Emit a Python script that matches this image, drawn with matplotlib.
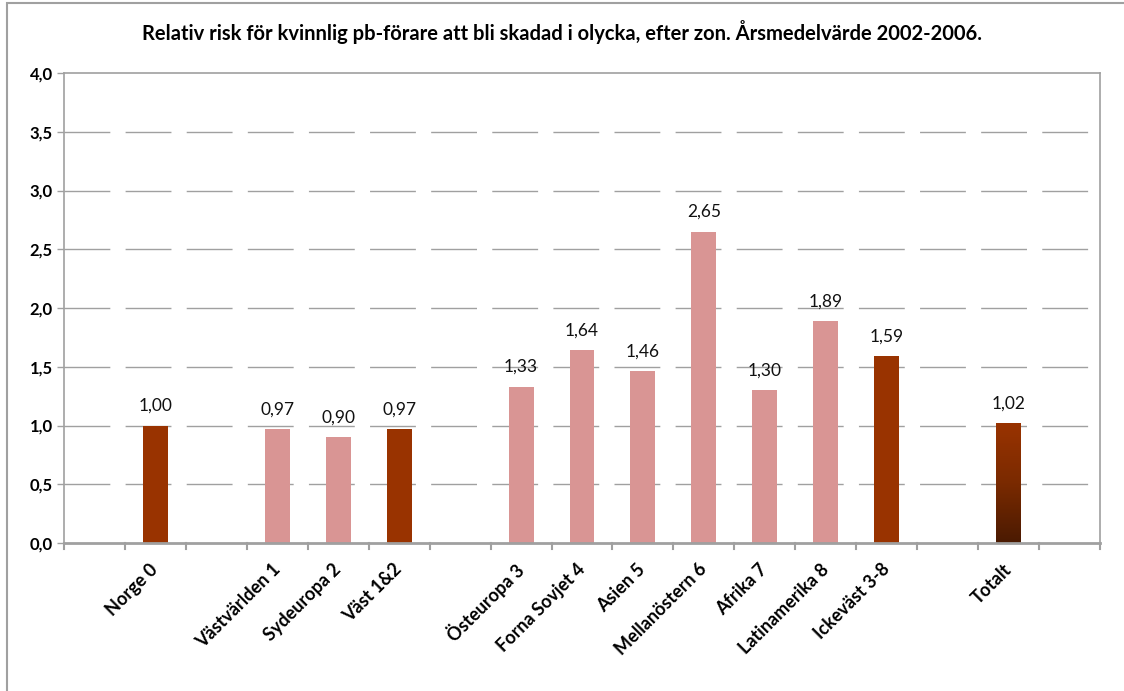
import numpy as np
import matplotlib.pyplot as plt
from matplotlib.patches import Rectangle
from matplotlib.colors import LinearSegmentedColormap

# categories ('' = empty slot between groups)
labels = ['', 'Norge 0', '', 'Västvärlden 1', 'Sydeuropa 2', 'Väst 1&2', '',
          'Östeuropa 3', 'Forna Sovjet 4', 'Asien 5', 'Mellanöstern 6', 'Afrika 7',
          'Latinamerika 8', 'Ickeväst 3-8', '', 'Totalt', '']
values = [np.nan, 1.00, np.nan, 0.97, 0.90, 0.97, np.nan,
          1.33, 1.64, 1.46, 2.65, 1.30, 1.89, 1.59, np.nan, 1.02, np.nan]
kinds = ['', 'sum', '', 'zone', 'zone', 'sum', '',
         'zone', 'zone', 'zone', 'zone', 'zone', 'zone', 'sum', '', 'total', '']
value_text = ['', '1,00', '', '0,97', '0,90', '0,97', '',
              '1,33', '1,64', '1,46', '2,65', '1,30', '1,89', '1,59', '', '1,02', '']

title = 'Relativ risk för kvinnlig pb-förare att bli skadad i olycka, efter zon. Årsmedelvärde 2002-2006.'

dark = '#993300'
pink = '#D99594'
grey = '#A0A0A0'

plt.rcParams['font.family'] = ['Lato', 'DejaVu Sans']

fig = plt.figure(figsize=(11.24, 6.91), dpi=100)
W, H = 1124, 691
ax = fig.add_axes([64 / W, (H - 543) / H, (1100 - 64) / W, (543 - 73) / H])

# outer chart border
fig.patches.append(Rectangle((7 / W, -0.1), 1.2, (H - 3) / H + 0.1, transform=fig.transFigure,
                             fill=False, edgecolor=grey, lw=1.5, clip_on=False))

x = np.arange(len(labels))
bw = 0.41
for i in x:
    v = values[i]
    if np.isnan(v):
        continue
    if kinds[i] == 'total':
        bar = ax.bar(i, v, bw, color='none', zorder=3)[0]
        grad = np.linspace(1, 0, 256).reshape(-1, 1)
        cm = LinearSegmentedColormap.from_list('g', ['#4A1A02', '#7A2A00', dark])
        im = ax.imshow(grad, cmap=cm, extent=[i - bw / 2, i + bw / 2, 0, v],
                       aspect='auto', zorder=3, origin='upper')
        im.set_clip_path(bar)
    else:
        ax.bar(i, v, bw, color=dark if kinds[i] == 'sum' else pink, zorder=3)
    ax.text(i, v + 0.1, value_text[i], ha='center', va='bottom', fontsize=12.5, color='#111111')

ax.set_xlim(-0.5, len(labels) - 0.5)
ax.set_ylim(0, 4.0)

yt = np.arange(0, 4.01, 0.5)
ax.set_yticks(yt)
ax.set_yticklabels([f'{t:.1f}'.replace('.', ',') for t in yt], fontsize=12, fontweight='bold')
for t in yt[1:-1]:
    ax.axhline(t, color=grey, lw=1, linestyle=(0, (33, 11)), zorder=1)

ax.set_xticks(x)
ax.set_xticklabels(labels, rotation=45, ha='right', va='center', rotation_mode='anchor',
                   fontsize=13, fontweight='bold')
ax.tick_params(axis='x', length=0, pad=17)
for b in np.arange(-0.5, len(labels), 1.0):
    ax.plot([b, b], [0, -0.05], color=grey, lw=1.5, clip_on=False, zorder=4)
ax.tick_params(axis='y', length=5, color=grey, width=1, pad=3)

for s in ['left', 'top', 'right']:
    ax.spines[s].set_color(grey)
    ax.spines[s].set_linewidth(1.2)
ax.spines['bottom'].set_color(grey)
ax.spines['bottom'].set_linewidth(2)
ax.spines['bottom'].set_zorder(4)

fig.text(0.5, (H - 32) / H, title, ha='center', va='center', fontsize=14.5, fontweight='bold')

fig.savefig('out.png', dpi=100)
